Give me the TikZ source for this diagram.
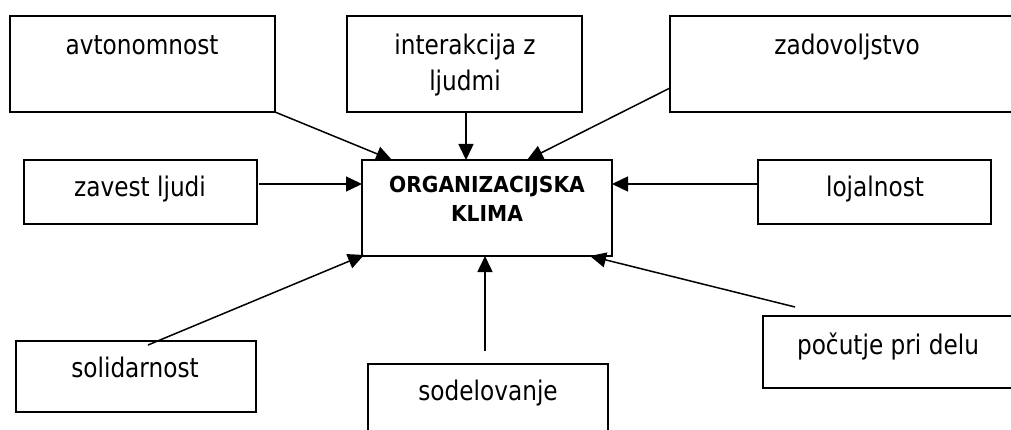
\documentclass[tikz,border=0pt]{standalone}
\usepackage{fontspec}
\setmainfont{DejaVu Sans}[FakeStretch=0.86]
\newfontfamily\boldfam{DejaVu Sans}[FakeStretch=0.92]
\usetikzlibrary{arrows.meta}
\tikzset{
  boxline/.style={draw=black, line width=1.7pt},
  lbl/.style={anchor=base, inner sep=0pt, font=\fontsize{27}{37}\selectfont},
  blbl/.style={anchor=base, inner sep=0pt, font=\boldfam\fontsize{22}{29}\selectfont\bfseries},
  conn/.style={line width=1.5pt, -{Triangle[length=16pt,width=15pt]}}
}
\begin{document}
\begin{tikzpicture}[x=1pt,y=-1pt]
\useasboundingbox (0,0) rectangle (1011,430);
\clip (0,0) rectangle (1011,430);
\fill[white] (0,0) rectangle (1011,430);
% boxes
\draw[boxline] (10,16) rectangle (275,112);
\draw[boxline] (347,16) rectangle (582,112);
\draw[boxline] (670,16) rectangle (1024,112);
\draw[boxline] (362,160) rectangle (612,256);
\draw[boxline] (24,160) rectangle (257,224);
\draw[boxline] (758,160) rectangle (991,224);
\draw[boxline] (16,341) rectangle (256,412);
\draw[boxline] (368,364) rectangle (608,445);
\draw[boxline] (763,316) rectangle (1014,388);
% labels
\node[lbl] (avt) at (142,55) {avtonomnost};
\node[lbl] (int1) at (465,55) {interakcija z};
\node[lbl] (int2) at (465,91) {ljudmi};
\node[lbl] (zad) at (847,55) {zadovoljstvo};
\node[blbl] (org1) at (487,193) {ORGANIZACIJSKA};
\node[blbl] (org2) at (487,222) {KLIMA};
\node[lbl] (zav) at (140,197) {zavest ljudi};
\node[lbl] (loj) at (875,197) {lojalnost};
\node[lbl] (sol) at (135,377) {solidarnost};
\node[lbl] (sod) at (488,400) {sodelovanje};
\node[lbl] (poc) at (888,354) {počutje pri delu};
% connector end points
\coordinate (avtS) at (275,112);
\coordinate (avtE) at (392,160);
\coordinate (intS) at (466,112);
\coordinate (intE) at (466,160);
\coordinate (zadS) at (670,88);
\coordinate (zadE) at (527,160);
\coordinate (zavS) at (259,184);
\coordinate (zavE) at (362,184);
\coordinate (lojS) at (758,184);
\coordinate (lojE) at (612,184);
\coordinate (solS) at (148,345);
\coordinate (solE) at (364,255);
\coordinate (sodS) at (485,351);
\coordinate (sodE) at (485,256);
\coordinate (pocS) at (795,307);
\coordinate (pocE) at (590,256);
% connectors
\draw[conn] (avtS) -- (avtE);
\draw[conn] (intS) -- (intE);
\draw[conn] (zadS) -- (zadE);
\draw[conn] (zavS) -- (zavE);
\draw[conn] (lojS) -- (lojE);
\draw[conn] (solS) -- (solE);
\draw[conn] (sodS) -- (sodE);
\draw[conn] (pocS) -- (pocE);
\end{tikzpicture}
\end{document}
